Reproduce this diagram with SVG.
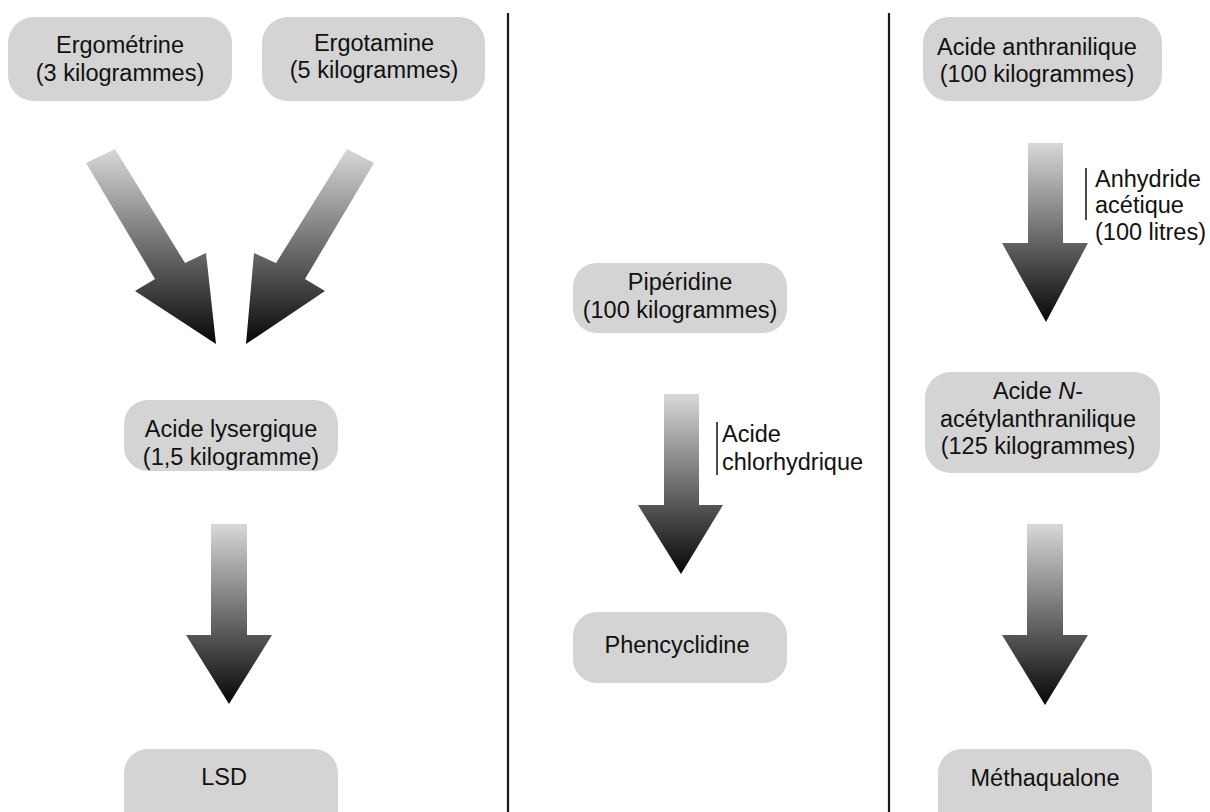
<svg xmlns="http://www.w3.org/2000/svg" width="1210" height="812" viewBox="0 0 1210 812">
<defs>
<linearGradient id="g" x1="0" y1="0" x2="0" y2="1">
<stop offset="0" stop-color="#d8d8d8"/>
<stop offset="1" stop-color="#060606"/>
</linearGradient>
<style>
.box{fill:#d4d4d4}
.t{font-family:"Liberation Sans",Arial,sans-serif;font-size:23.5px;fill:#111;text-anchor:middle}
.l{font-family:"Liberation Sans",Arial,sans-serif;font-size:23.5px;fill:#111}
.arr{fill:url(#g)}
.bar{stroke:#111;stroke-width:1.5}
.div{stroke:#1a1a1a;stroke-width:2.2}
</style>
</defs>
<rect width="1210" height="812" fill="#fff"/>
<g id="dividers">
<line class="div" x1="508" y1="13" x2="508" y2="812"/>
<line class="div" x1="889" y1="13" x2="889" y2="812"/>
</g>
<g id="n1"><rect class="box" x="8" y="17" width="224" height="84" rx="26"/><text class="t" x="120" y="53">Ergométrine</text><text class="t" x="120" y="81">(3 kilogrammes)</text></g>
<g id="n2"><rect class="box" x="262" y="17" width="223" height="84" rx="26"/><text class="t" x="374" y="51">Ergotamine</text><text class="t" x="374" y="78">(5 kilogrammes)</text></g>
<g id="n3"><rect class="box" x="124" y="400" width="214" height="71" rx="24"/><text class="t" x="231" y="437">Acide lysergique</text><text class="t" x="231" y="465">(1,5 kilogramme)</text></g>
<g id="n4"><rect class="box" x="124" y="749" width="214" height="90" rx="24"/><text class="t" x="224" y="785">LSD</text></g>
<g id="n5"><rect class="box" x="573" y="263" width="214" height="70" rx="24"/><text class="t" x="680" y="290">Pipéridine</text><text class="t" x="680" y="318">(100 kilogrammes)</text></g>
<g id="n6"><rect class="box" x="573" y="612" width="214" height="71" rx="24"/><text class="t" x="677" y="653">Phencyclidine</text></g>
<g id="n7"><rect class="box" x="923" y="17" width="239" height="84" rx="26"/><text class="t" x="1037" y="55">Acide anthranilique</text><text class="t" x="1037" y="82">(100 kilogrammes)</text></g>
<g id="n8"><rect class="box" x="925" y="372" width="235" height="101" rx="26"/><text class="t" x="1038" y="399">Acide <tspan font-style="italic">N</tspan>-</text><text class="t" x="1038" y="427">acétylanthranilique</text><text class="t" x="1038" y="454">(125 kilogrammes)</text></g>
<g id="n9"><rect class="box" x="938" y="749" width="214" height="90" rx="24"/><text class="t" x="1045" y="786">Méthaqualone</text></g>
<g id="connectors">
<polygon class="arr" points="86,163 115,149 185,263 206,253 216,344 135,291 155,279"/>
<polygon class="arr" points="374,163 347,149 276,263 254,253 246,344 325,291 305,279"/>
<polygon class="arr" points="211,524 247,524 247,635 272,635 229,704 186,635 211,635"/>
<polygon class="arr" points="664,394 699,394 699,505 723,505 681,574 638,505 664,505"/>
<polygon class="arr" points="1028,143 1063,143 1063,243 1088,243 1046,322 1002,243 1028,243"/>
<polygon class="arr" points="1027,524 1063,524 1063,635 1088,635 1045,705 1002,635 1027,635"/>
<line class="bar" x1="717" y1="422" x2="717" y2="475"/>
<text class="l" x="722" y="442">Acide</text>
<text class="l" x="722" y="470">chlorhydrique</text>
<line class="bar" x1="1086" y1="168" x2="1086" y2="220"/>
<text class="l" x="1095" y="187">Anhydride</text>
<text class="l" x="1095" y="213">acétique</text>
<text class="l" x="1095" y="240">(100 litres)</text>
</g>
</svg>
